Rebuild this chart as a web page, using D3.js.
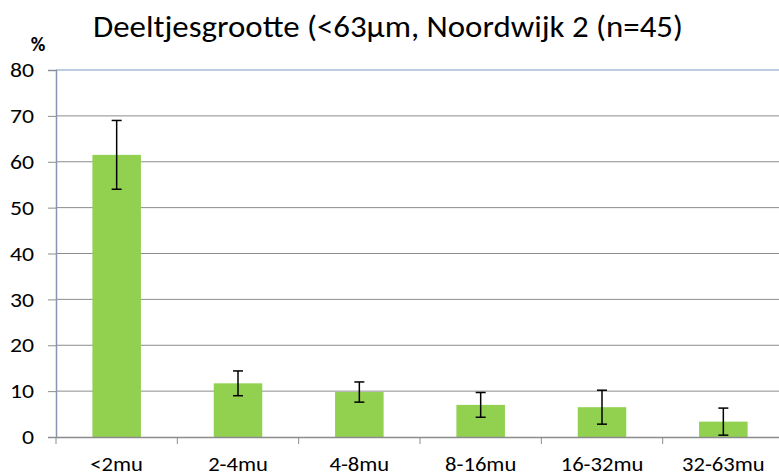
<!DOCTYPE html>
<html><head><meta charset="utf-8">
<script src="https://cdn.jsdelivr.net/npm/d3@7"></script>
<style>body{margin:0;background:#fff}svg{display:block}</style>
</head><body>
<script>
const categories = ["<2mu","2-4mu","4-8mu","8-16mu","16-32mu","32-63mu"];
const values = [61.5, 11.7, 9.8, 7.0, 6.5, 3.35];
const errors = [7.5, 2.7, 2.2, 2.7, 3.7, 2.95];
const yTicks = [0,10,20,30,40,50,60,70,80];
const title = "Deeltjesgrootte (<63µm, Noordwijk 2 (n=45)";

(function(){
const W = 779, H = 475;
const svg = d3.select("body").append("svg").attr("width", W).attr("height", H);
const font = "Carlito, Calibri, 'Open Sans', sans-serif";
const mLeft = 56, mRight = 784, mTop = 70, mBottom = 437;
const stretch = 1.13;
function widen(sel) {
  sel.each(function() {
    const len = this.getComputedTextLength();
    d3.select(this).attr("textLength", len * stretch).attr("lengthAdjust", "spacingAndGlyphs");
  });
}

const x = d3.scaleBand().domain(categories).range([mLeft, mRight]).paddingInner(0.6).paddingOuter(0.3);
const xb = d3.scaleBand().domain(categories).range([mLeft, mRight]);
const y = d3.scaleLinear().domain([0, 80]).range([mBottom, mTop]);

svg.append("g").selectAll("line").data(yTicks.filter(d => d > 0 && d < 80)).join("line")
  .attr("x1", mLeft).attr("x2", W).attr("y1", d => y(d)).attr("y2", d => y(d))
  .attr("stroke", "#8c8c8c").attr("stroke-width", 1);
svg.append("line").attr("x1", mLeft).attr("x2", W).attr("y1", y(80)).attr("y2", y(80))
  .attr("stroke", "#7b9cc8").attr("stroke-width", 1.2);

svg.append("g").selectAll("rect").data(values).join("rect")
  .attr("x", (d, i) => x(categories[i]))
  .attr("width", x.bandwidth())
  .attr("y", d => y(d))
  .attr("height", d => y(0) - y(d))
  .attr("fill", "#92d050");

const yAxis = svg.append("g").attr("transform", `translate(${mLeft},0)`)
  .call(d3.axisLeft(y).tickValues(yTicks).tickSize(8).tickPadding(14));
yAxis.select(".domain").attr("stroke", "#8496b0").attr("stroke-width", 1.5);
yAxis.selectAll(".tick line").attr("stroke", "#8c8c8c");
yAxis.selectAll("text").attr("font-family", font).attr("font-size", 21).attr("fill", "#000").call(widen);

const xAxis = svg.append("g").attr("transform", `translate(0,${mBottom})`)
  .call(d3.axisBottom(xb).tickSize(0));
xAxis.select(".domain").attr("stroke", "#8c8c8c").attr("stroke-width", 1.5);
xAxis.selectAll("text").attr("font-family", font).attr("font-size", 20).attr("fill", "#000")
  .attr("y", 34).attr("dy", 0).call(widen);
svg.append("g").selectAll("line").data(categories).join("line")
  .attr("x1", d => xb(d)).attr("x2", d => xb(d))
  .attr("y1", mBottom).attr("y2", mBottom + 7)
  .attr("stroke", "#8c8c8c").attr("stroke-width", 1);

const eb = svg.append("g").attr("stroke", "#000").attr("stroke-width", 1.5);
values.forEach((v, i) => {
  const cx = x(categories[i]) + x.bandwidth() / 2;
  const t = y(v + errors[i]), b = y(v - errors[i]);
  eb.append("line").attr("x1", cx).attr("x2", cx).attr("y1", t).attr("y2", b);
  eb.append("line").attr("x1", cx - 5).attr("x2", cx + 5).attr("y1", t).attr("y2", t);
  eb.append("line").attr("x1", cx - 5).attr("x2", cx + 5).attr("y1", b).attr("y2", b);
});

const tt = svg.append("text").attr("x", 388).attr("y", 37).attr("text-anchor", "middle")
  .attr("font-family", font).attr("font-size", 31).attr("fill", "#000").text(title);
tt.attr("textLength", 590).attr("lengthAdjust", "spacingAndGlyphs");
svg.append("text").attr("x", 38).attr("y", 51).attr("text-anchor", "middle")
  .attr("font-family", font).attr("font-size", 20).attr("font-weight", "bold").attr("fill", "#000").text("%");
})();
</script>
</body></html>
